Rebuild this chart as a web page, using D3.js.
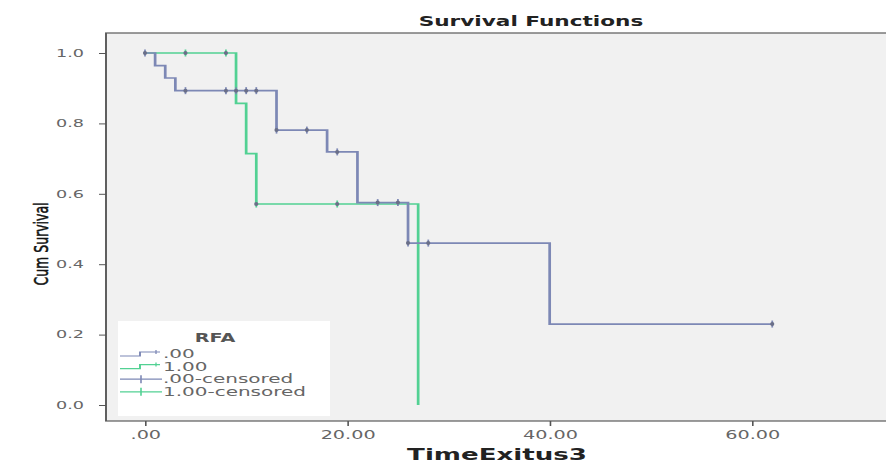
<!DOCTYPE html>
<html>
<head>
<meta charset="utf-8">
<script src="https://cdn.jsdelivr.net/npm/d3@7.9.0/dist/d3.min.js"></script>
<style>
  body { margin: 0; background: #fff; }
  svg { display: block; }
  text { font-family: "DejaVu Sans", sans-serif; }
</style>
</head>
<body>
<svg width="886" height="464"></svg>
<script>
// RFA = .00 : step times and survival levels
const rfa0Time = [0, 1, 2, 3, 13, 18, 21, 26, 40];
const rfa0Surv = [1.0, 0.964, 0.929, 0.893, 0.781, 0.719, 0.575, 0.46, 0.23];
const rfa0End = 62;
const rfa0Censored = [0, 4, 8, 9, 10, 11, 13, 16, 19, 23, 25, 26, 28, 62];

// RFA = 1.00
const rfa1Time = [0, 9, 10, 11, 27];
const rfa1Surv = [1.0, 0.857, 0.714, 0.571, 0.0];
const rfa1End = 27;
const rfa1Censored = [4, 8, 11, 19];

const xTicks = [0, 20, 40, 60];
const yTicks = [0, 0.2, 0.4, 0.6, 0.8, 1.0];
const legendLabels = ['.00', '1.00', '.00-censored', '1.00-censored'];

const blue = '#7d88b5';
const green = '#52d193';

// the source picture is stretched sideways, so draw in a narrow space and widen it
const k = 1.6;
const px = v => v / k;

let svg = d3.select('svg');
let root = svg.append('g').attr('transform', `scale(${k},1)`);

let x = d3.scaleLinear().domain([0, 60]).range([px(145), px(752)]);
let y = d3.scaleLinear().domain([0, 1]).range([405, 53]);

// plot frame
root.append('rect')
  .attr('x', px(106)).attr('y', 33)
  .attr('width', px(900)).attr('height', 388)
  .attr('fill', '#f1f1f1')
  .attr('stroke', '#5a5a5a')
  .attr('stroke-width', 1.2);

// x axis
let xAxis = d3.axisBottom(x).tickValues(xTicks).tickFormat(d => d === 0 ? '.00' : d3.format('.2f')(d)).tickSize(5);
let gx = root.append('g').attr('transform', 'translate(0,421)').call(xAxis);
gx.select('.domain').remove();
gx.selectAll('line').attr('stroke', '#555');
gx.selectAll('text').attr('fill', '#666').attr('font-size', 12).attr('dy', '0.85em').attr('font-family', '"DejaVu Sans", sans-serif');

// y axis: ticks from d3, labels placed by hand a bit further out
let yAxis = d3.axisLeft(y).tickValues(yTicks).tickFormat('').tickSize(px(7));
let gy = root.append('g').attr('transform', `translate(${px(106)},0)`).call(yAxis);
gy.select('.domain').remove();
gy.selectAll('line').attr('stroke', '#555');

root.selectAll('.ylab')
  .data(yTicks)
  .join('text')
  .attr('class', 'ylab')
  .attr('x', px(84))
  .attr('y', d => y(d))
  .attr('dy', '0.35em')
  .attr('text-anchor', 'end')
  .attr('font-size', 11)
  .attr('fill', '#666')
  .text(d3.format('.1f'));

// step function helper
function survAt(times, surv, t) {
  let s = surv[0];
  times.forEach((tt, i) => { if (tt <= t) s = surv[i]; });
  return s;
}

function stepPoints(times, surv, end) {
  let pts = times.map((t, i) => [t, surv[i]]);
  pts.push([end, surv[surv.length - 1]]);
  return pts;
}

let line = d3.line().x(d => x(d[0])).y(d => y(d[1])).curve(d3.curveStepAfter);

let groups = [
  { times: rfa1Time, surv: rfa1Surv, end: rfa1End, cens: rfa1Censored, color: green },
  { times: rfa0Time, surv: rfa0Surv, end: rfa0End, cens: rfa0Censored, color: blue }
];

groups.forEach(g => {
  root.append('path')
    .attr('d', line(stepPoints(g.times, g.surv, g.end)))
    .attr('fill', 'none')
    .attr('stroke', g.color)
    .attr('stroke-width', 1.7);

  g.cens.forEach(t => {
    let cy = y(survAt(g.times, g.surv, t));
    root.append('line')
      .attr('x1', x(t)).attr('x2', x(t))
      .attr('y1', cy - 3.5).attr('y2', cy + 3.5)
      .attr('stroke', g.color).attr('stroke-width', 1.1);
    root.append('ellipse')
      .attr('cx', x(t)).attr('cy', cy).attr('rx', 1.3).attr('ry', 2)
      .attr('fill', '#6a6f88');
  });
});

// titles
root.append('text')
  .attr('x', px(531)).attr('y', 26)
  .attr('text-anchor', 'middle')
  .attr('font-family', '"Liberation Sans", Arial, sans-serif')
  .attr('font-size', 13.5).attr('font-weight', 'bold')
  .attr('fill', '#222')
  .text('Survival Functions');

root.append('text')
  .attr('x', px(497)).attr('y', 460)
  .attr('text-anchor', 'middle')
  .attr('font-size', 16.3).attr('font-weight', 'bold')
  .attr('fill', '#222')
  .text('TimeExitus3');

root.append('text')
  .attr('transform', `translate(${px(48)},244) rotate(-90)`)
  .attr('text-anchor', 'middle')
  .attr('font-family', '"Liberation Sans", Arial, sans-serif')
  .attr('font-size', 12.5)
  .attr('fill', '#111')
  .attr('stroke', '#111')
  .attr('stroke-width', 0.35)
  .text('Cum Survival');

// legend
let lg = root.append('g');
lg.append('rect')
  .attr('x', px(118)).attr('y', 321)
  .attr('width', px(212)).attr('height', 95)
  .attr('fill', '#fff');
lg.append('text')
  .attr('x', px(215)).attr('y', 342)
  .attr('text-anchor', 'middle')
  .attr('font-size', 12).attr('font-weight', 'bold')
  .attr('fill', '#555')
  .text('RFA');

let legendColors = [blue, green, blue, green];
legendLabels.forEach((lab, i) => {
  let ly = 354 + i * 12.6;
  if (i < 2) {
    lg.append('path')
      .attr('d', `M${px(120)},${ly + 2}H${px(140)}V${ly - 2}H${px(160)}`)
      .attr('fill', 'none').attr('stroke', legendColors[i]).attr('stroke-width', 1.2);
    lg.append('line')
      .attr('x1', px(156)).attr('x2', px(156)).attr('y1', ly - 4).attr('y2', ly)
      .attr('stroke', legendColors[i]).attr('stroke-width', 0.8);
  } else {
    lg.append('line')
      .attr('x1', px(120)).attr('x2', px(162)).attr('y1', ly).attr('y2', ly)
      .attr('stroke', legendColors[i]).attr('stroke-width', 1.2);
    lg.append('line')
      .attr('x1', px(141)).attr('x2', px(141)).attr('y1', ly - 4).attr('y2', ly + 4)
      .attr('stroke', legendColors[i]).attr('stroke-width', 1);
  }
  lg.append('text')
    .attr('x', px(163)).attr('y', ly + 4)
    .attr('font-size', 12.5)
    .attr('fill', '#666')
    .text(lab);
});
</script>
</body>
</html>
